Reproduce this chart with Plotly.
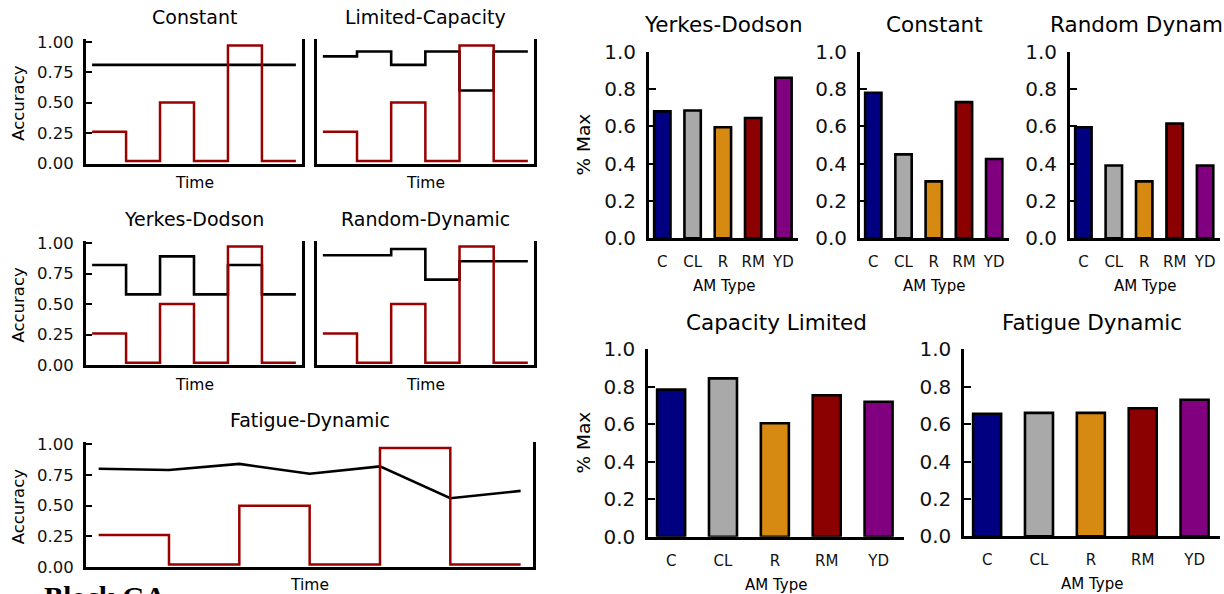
import plotly.graph_objects as go

W, H = 1224, 594
FONT = "DejaVu Sans"

# ---------------- data ----------------
time_edges = [0, 1, 2, 3, 4, 5, 6]
stimulus = [0.26, 0.02, 0.50, 0.02, 0.97, 0.02]          # red step (per block)
acc_constant = [0.81, 0.81, 0.81, 0.81, 0.81, 0.81]
acc_limited = [0.88, 0.92, 0.81, 0.92, 0.60, 0.92]
acc_yerkes = [0.82, 0.58, 0.89, 0.58, 0.82, 0.58]
acc_random = [0.90, 0.90, 0.95, 0.70, 0.85, 0.85]
acc_fatigue = [0.80, 0.79, 0.84, 0.76, 0.82, 0.56, 0.62]  # values at time 0..6

am_types = ["C", "CL", "R", "RM", "YD"]
am_colors = ["#000080", "#a9a9a9", "#d68a12", "#8b0000", "#800080"]
max_yerkes = [0.68, 0.685, 0.595, 0.645, 0.86]
max_constant = [0.78, 0.45, 0.305, 0.73, 0.425]
max_random = [0.595, 0.39, 0.305, 0.615, 0.39]
max_capacity = [0.785, 0.845, 0.605, 0.755, 0.72]
max_fatigue = [0.655, 0.66, 0.66, 0.685, 0.73]

RED = "#990000"


def dom(l, r, b, t):
    return [l / W, r / W], [1 - b / H, 1 - t / H]


def ann(text, px, py, size, angle=0, family=FONT, xanchor="center", yanchor="middle"):
    return dict(text=text, x=px / W, y=1 - py / H, xref="paper", yref="paper",
                xanchor=xanchor, yanchor=yanchor, showarrow=False, textangle=angle,
                font=dict(family=family, size=size, color="black"))


def steps(vals):
    return vals + [vals[-1]]


fig = go.Figure()
layout = {}
annotations = []

# ---------------- line panels ----------------
line_panels = [
    ("Constant", acc_constant, (86, 302, 163.5, 39.3), True, True),
    ("Limited-Capacity", acc_limited, (316.7, 534, 163.5, 39.3), False, True),
    ("Yerkes-Dodson", acc_yerkes, (86, 302, 365.3, 240.5), True, True),
    ("Random-Dynamic", acc_random, (316.7, 534, 365.3, 240.5), False, True),
    ("Fatigue-Dynamic", acc_fatigue, (86, 533.3, 567, 441.8), True, False),
]

k = 0
for title, acc, (l, r, b, t), labels, is_step in line_panels:
    k += 1
    xd, yd = dom(l, r, b, t)
    xa = "x" if k == 1 else f"x{k}"
    ya = "y" if k == 1 else f"y{k}"
    if is_step:
        fig.add_trace(go.Scatter(x=time_edges, y=steps(acc), mode="lines", line_shape="hv",
                                 line=dict(color="black", width=2.6), xaxis=xa, yaxis=ya,
                                 showlegend=False, hoverinfo="skip"))
    else:
        fig.add_trace(go.Scatter(x=time_edges, y=acc, mode="lines",
                                 line=dict(color="black", width=2.6), xaxis=xa, yaxis=ya,
                                 showlegend=False, hoverinfo="skip"))
    fig.add_trace(go.Scatter(x=time_edges, y=steps(stimulus), mode="lines", line_shape="hv",
                             line=dict(color=RED, width=2.5), xaxis=xa, yaxis=ya,
                             showlegend=False, hoverinfo="skip"))
    layout["xaxis" if k == 1 else f"xaxis{k}"] = dict(
        domain=xd, anchor=ya, range=[-0.18, 6.18], showline=True, linewidth=3,
        linecolor="black", showgrid=False, zeroline=False, showticklabels=False, ticks="",
        automargin=False)
    layout["yaxis" if k == 1 else f"yaxis{k}"] = dict(
        domain=yd, anchor=xa, range=[0, 1.02], showline=True, mirror=True, linewidth=3,
        linecolor="black", showgrid=False, zeroline=False, automargin=False,
        tickvals=[0, 0.25, 0.5, 0.75, 1.0], tickformat=".2f",
        showticklabels=labels, ticks="inside" if labels else "", ticklen=6, tickwidth=1.5,
        tickcolor="black", ticklabelstandoff=6,
        tickfont=dict(family=FONT, size=16.5, color="#111"))
    cx = (l + r) / 2
    annotations.append(ann(title, cx, t - 22, 19))
    annotations.append(ann("Time", cx, min(b + 19.5, 585), 15.5))
    if labels:
        annotations.append(ann("Accuracy", 18.3, b - 61, 16.5, angle=-90))

# ---------------- bar panels ----------------
bar_panels = [
    ("Yerkes-Dodson", max_yerkes, (649, 798.3, 238.3, 51.7), True),
    ("Constant", max_constant, (860, 1009, 238.3, 51.7), False),
    ("Random Dynamic", max_random, (1070, 1220, 238.3, 51.7), False),
    ("Capacity Limited", max_capacity, (648.3, 904, 536.7, 349.3), True),
    ("Fatigue Dynamic", max_fatigue, (964.3, 1220, 536.3, 349.3), False),
]

for title, vals, (l, r, b, t), ylab in bar_panels:
    k += 1
    xd, yd = dom(l, r, b, t)
    xa, ya = f"x{k}", f"y{k}"
    fig.add_trace(go.Bar(x=am_types, y=vals, width=0.54,
                         marker=dict(color=am_colors, line=dict(color="black", width=2.6)),
                         xaxis=xa, yaxis=ya, showlegend=False, hoverinfo="skip"))
    layout[f"xaxis{k}"] = dict(
        domain=xd, anchor=ya, type="category", range=[-0.44, 4.49], showline=True,
        linewidth=3, linecolor="black", showgrid=False, zeroline=False, ticks="",
        automargin=False,
        ticklabelstandoff=8, tickfont=dict(family=FONT, size=15, color="#111"))
    layout[f"yaxis{k}"] = dict(
        domain=yd, anchor=xa, range=[0, 1.0], showline=True, linewidth=3,
        linecolor="black", showgrid=False, zeroline=False, automargin=False,
        tickvals=[0, 0.2, 0.4, 0.6, 0.8, 1.0], tickformat=".1f",
        ticks="inside", ticklen=7, tickwidth=1.5, tickcolor="black", ticklabelstandoff=6,
        tickfont=dict(family=FONT, size=20, color="#111"))
    cx = (l + r) / 2
    annotations.append(ann(title, cx, t - 27, 21.5))
    annotations.append(ann("AM Type", cx, b + 48, 15))
    if ylab:
        annotations.append(ann("% Max", 582.5, (b + t) / 2, 18.5, angle=-90))

# partially visible caption at the bottom edge
annotations.append(dict(text="<b>Block GA</b>", x=42 / W, y=1 - 579 / H, xref="paper", yref="paper",
                        xanchor="left", yanchor="top", showarrow=False,
                        font=dict(family="Liberation Serif", size=29, color="black")))

fig.update_layout(
    width=W, height=H, margin=dict(l=0, r=0, t=0, b=0, autoexpand=False),
    paper_bgcolor="white", plot_bgcolor="rgba(0,0,0,0)",
    font=dict(family=FONT, color="black"),
    annotations=annotations, **layout)

fig.write_html("out.html")
